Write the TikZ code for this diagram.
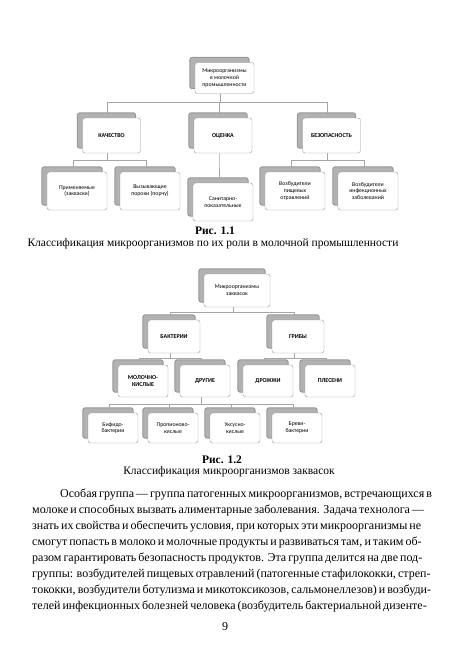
\documentclass[tikz,border=0pt]{standalone}
\usepackage{fontspec}
\setmainfont{Liberation Serif}
\newfontfamily\boxfont{Carlito}
\usetikzlibrary{backgrounds, positioning}

\begin{document}
\begin{tikzpicture}[x=1pt,y=-1pt,on grid,
   box/.style={draw=gray!80, fill=white, rounded corners=2.5pt, align=center,
     inner sep=1pt, font=\boxfont\fontsize{5.8}{6.8}\selectfont},
   capsbox/.style={font=\boxfont\bfseries\fontsize{6}{7}\selectfont},
   shade/.style={fill=gray!60, draw=gray!80, line width=1pt, rounded corners=2.5pt},
   conn/.style={draw=gray!70, line width=0.7pt},
   txt/.style={anchor=base west, inner sep=0pt, font=\fontsize{12}{16}\selectfont}]

%% Fig. 1.1
\node[box, minimum width=59pt, minimum height=31pt] (mo) at (224.5,78)
   {Микроорганизмы\\в молочной\\промышленности};
\node[box, capsbox, minimum width=58pt, minimum height=35pt] (kach) at (111.5,135.5) {КАЧЕСТВО};
\node[box, capsbox, minimum width=58pt, minimum height=35pt] (ots) [right=111.5pt of kach] {ОЦЕНКА};
\node[box, capsbox, minimum width=58pt, minimum height=35pt] (bez) [right=108.5pt of ots] {БЕЗОПАСНОСТЬ};
\node[box, minimum width=60pt, minimum height=38pt] (prim) at (77,191) {Применяемые\\(закваски)};
\node[box, minimum width=60pt, minimum height=38pt] (vyz) [right=73pt of prim] {Вызывающие\\пороки (порчу)};
\node[box, minimum width=60pt, minimum height=38pt] (san) at (223,202) {Санитарно-\\показательные};
\node[box, minimum width=60pt, minimum height=38pt] (pish) at (295,191) {Возбудители\\пищевых\\отравлений};
\node[box, minimum width=60pt, minimum height=38pt] (inf) [right=73pt of pish] {Возбудители\\инфекционных\\заболеваний};

\node[font=\bfseries\fontsize{11.5}{13}\selectfont] (fig1) at (215,231) {Рис. 1.1};
\node[font=\fontsize{11.5}{13}\selectfont] (cap1) at (213,244)
   {Классификация микроорганизмов по их роли в молочной промышленности};

%% Fig. 1.2
\node[box, minimum width=66pt, minimum height=33pt] (zakv) at (237,290.5) {Микроорганизмы\\заквасок};
\node[box, capsbox, minimum width=52pt, minimum height=33pt] (bakt) at (174,336.5) {БАКТЕРИИ};
\node[box, capsbox, minimum width=52pt, minimum height=33pt] (grib) [right=124pt of bakt] {ГРИБЫ};
\node[box, capsbox, minimum width=50pt, minimum height=32pt] (molk) at (143,381) {МОЛОЧНО-\\КИСЛЫЕ};
\node[box, capsbox, minimum width=50pt, minimum height=32pt] (drug) [right=62pt of molk] {ДРУГИЕ};
\node[box, capsbox, minimum width=50pt, minimum height=32pt] (droz) [right=63pt of drug] {ДРОЖЖИ};
\node[box, capsbox, minimum width=50pt, minimum height=32pt] (ples) [right=62pt of droz] {ПЛЕСЕНИ};
\node[box, minimum width=50pt, minimum height=30pt] (bif) at (113,428) {Бифидо-\\бактерии};
\node[box, minimum width=50pt, minimum height=30pt] (prop) [right=60pt of bif] {Пропионово-\\кислые};
\node[box, minimum width=50pt, minimum height=30pt] (uks) [right=62pt of prop] {Уксусно-\\кислые};
\node[box, minimum width=50pt, minimum height=30pt] (brev) [right=62pt of uks] {Бреви-\\бактерии};

\node[font=\bfseries\fontsize{11.5}{13}\selectfont] (fig2) at (222,460) {Рис. 1.2};
\node[font=\fontsize{11.5}{13}\selectfont] (cap2) at (229,472)
   {Классификация микроорганизмов заквасок};

%% shadows and connectors
\begin{scope}[on background layer]
\fill[white] (0,0) rectangle (450,645);
\foreach \n in {mo,kach,ots,bez,prim,vyz,san,pish,inf,
                zakv,bakt,grib,molk,drug,droz,ples,bif,prop,uks,brev}
   \draw[shade] ([xshift=-5pt,yshift=5pt]\n.south west) rectangle ([xshift=-5pt,yshift=5pt]\n.north east);
\foreach \p/\c/\y in {mo/kach/102, mo/ots/102, mo/bez/102,
                      kach/prim/160, kach/vyz/160, ots/san/160,
                      bez/pish/160, bez/inf/160,
                      zakv/bakt/312, zakv/grib/312,
                      bakt/molk/358, bakt/drug/358, grib/droz/358, grib/ples/358,
                      drug/bif/404, drug/prop/404, drug/uks/404, drug/brev/404}
   \draw[conn] ([xshift=-4pt]\p.south) |- ([xshift=-4pt]\c.north |- 0,\y)
               -- ([xshift=-4pt,yshift=5pt]\c.north);
\end{scope}

%% text
\foreach \t [count=\i] in {
   {Особая группа — группа патогенных микроорганизмов, встречающихся в},
   {молоке и способных вызвать алиментарные заболевания. Задача технолога —},
   {знать их свойства и обеспечить условия, при которых эти микроорганизмы не},
   {смогут попасть в молоко и молочные продукты и развиваться там, и таким об-},
   {разом гарантировать безопасность продуктов. Эта группа делится на две под-},
   {группы: возбудителей пищевых отравлений (патогенные стафилококки, стреп-},
   {тококки, возбудители ботулизма и микотоксикозов, сальмонеллезов) и возбуди-},
   {телей инфекционных болезней человека (возбудитель бактериальной дизенте-}}
   {\ifnum\i=1
      \node[txt] (line\i) at (60,481+16*\i) {\makebox[358pt][s]{\t}};
    \else
      \node[txt] (line\i) at (32,481+16*\i) {\makebox[386pt][s]{\t}};
    \fi}
\node[font=\fontsize{12}{14}\selectfont] (page) at (225,627) {9};
\useasboundingbox (0,0) rectangle (450,645);
\end{tikzpicture}
\end{document}
